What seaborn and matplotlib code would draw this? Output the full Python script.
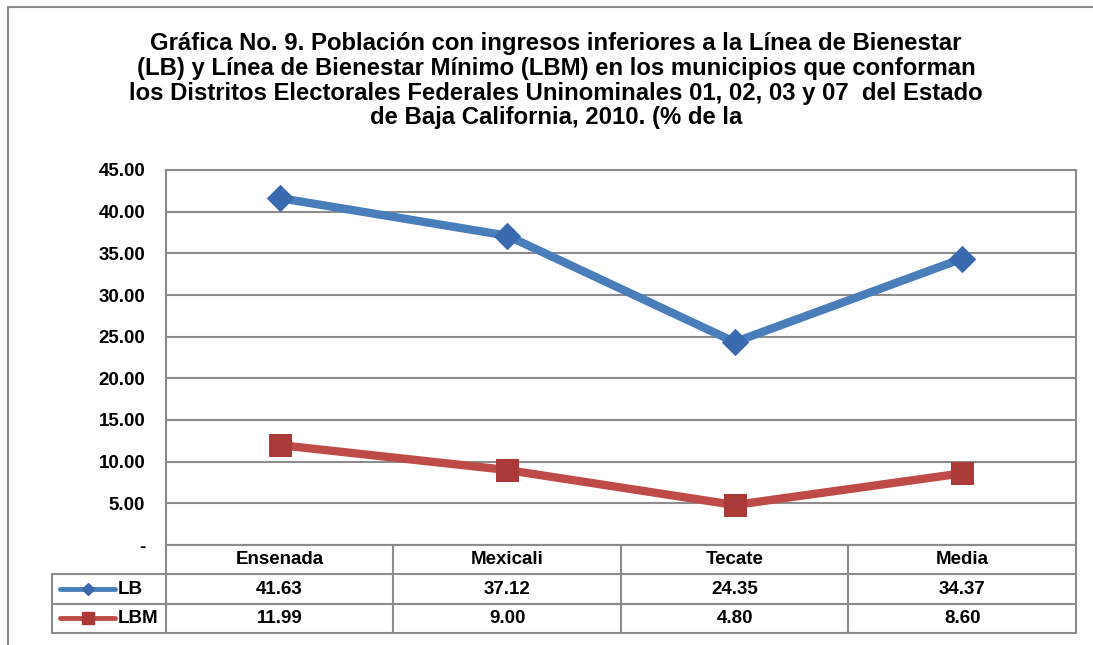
import numpy as np
import pandas as pd
import matplotlib.pyplot as plt
import seaborn as sns
from matplotlib.lines import Line2D

# Data
categories = ["Ensenada", "Mexicali", "Tecate", "Media"]
lb_values = [41.63, 37.12, 24.35, 34.37]
lbm_values = [11.99, 9.00, 4.80, 8.60]
series_names = ["LB", "LBM"]
y_ticks = [0, 5, 10, 15, 20, 25, 30, 35, 40, 45]
title_text = ("Gráfica No. 9. Población con ingresos inferiores a la Línea de Bienestar\n"
              "(LB) y Línea de Bienestar Mínimo (LBM) en los municipios que conforman\n"
              "los Distritos Electorales Federales Uninominales 01, 02, 03 y 07  del Estado\n"
              "de Baja California, 2010. (% de la")

sns.set_style("white")
plt.rcParams['font.family'] = ['Liberation Sans', 'DejaVu Sans']
plt.rcParams['text.color'] = 'black'
plt.rcParams['ytick.color'] = 'black'

colors = {"LB": "#4A7EBB", "LBM": "#BE4B48"}
edge_colors = {"LB": "#3A6AAE", "LBM": "#A93A37"}
markers = {"LB": "D", "LBM": "s"}
marker_sizes = {"LB": 13, "LBM": 16}
grid_color = "#8C8C8C"
fs = 13.5

pos = np.arange(len(categories))
df = pd.DataFrame({
    "x": np.concatenate([pos, pos]),
    "valor": lb_values + lbm_values,
    "serie": ["LB"] * len(lb_values) + ["LBM"] * len(lbm_values),
})

W, H = 1093, 645
fig = plt.figure(figsize=(W / 100, H / 100), dpi=100)
ax = fig.add_axes([166 / W, (H - 545) / H, 910 / W, 375 / H])

for s in series_names:
    sns.lineplot(data=df[df["serie"] == s], x="x", y="valor", ax=ax,
                 color=colors[s], linewidth=6, marker=markers[s],
                 markersize=marker_sizes[s], markerfacecolor=edge_colors[s],
                 markeredgecolor=edge_colors[s], legend=False, zorder=3)

ax.set_xlim(-0.5, len(categories) - 0.5)
ax.set_ylim(0, 45)
ax.set_yticks(y_ticks)
ax.set_yticklabels(["-" if v == 0 else f"{v:.2f}" for v in y_ticks],
                   fontweight="bold", fontsize=fs)
ax.set_xticks([])
ax.set_xlabel("")
ax.set_ylabel("")
ax.tick_params(axis="y", length=0, pad=15)
ax.yaxis.grid(True, color=grid_color, linewidth=1.5)
ax.set_axisbelow(True)
for sp in ax.spines.values():
    sp.set_color(grid_color)
    sp.set_linewidth(1.5)

# Data table under the plot
tax = fig.add_axes([52 / W, 12 / H, 1024 / W, 88 / H])
tax.set_xlim(-1.0, len(categories) - 0.5)
tax.set_ylim(3, 0)
tax.axis("off")
line_kw = dict(color=grid_color, linewidth=1.5, clip_on=False)
n = len(categories)
for y in [1, 2, 3]:
    tax.plot([-1.0, n - 0.5], [y, y], **line_kw)
tax.plot([-1.0, -1.0], [1, 3], **line_kw)
for xv in np.arange(-0.5, n, 1.0):
    tax.plot([xv, xv], [0, 3], **line_kw)

for i, c in enumerate(categories):
    tax.text(i, 0.5, c, ha="center", va="center", fontweight="bold", fontsize=fs)
for r, (s, vals) in enumerate(zip(series_names, [lb_values, lbm_values]), start=1):
    for i, v in enumerate(vals):
        tax.text(i, r + 0.5, f"{v:.2f}", ha="center", va="center",
                 fontweight="bold", fontsize=fs)
    tax.plot([-0.965, -0.725], [r + 0.5, r + 0.5], color=colors[s], linewidth=3.5,
             solid_capstyle="round", clip_on=False)
    tax.plot([-0.842], [r + 0.5], marker=markers[s], color=edge_colors[s],
             markersize=6 if s == "LB" else 8, clip_on=False)
    tax.text(-0.712, r + 0.5, s, ha="left", va="center",
             fontweight="bold", fontsize=fs)

# Outer chart border (top and left edges visible)
fig.add_artist(Line2D([8 / W, 1.0], [1 - 7 / H, 1 - 7 / H], transform=fig.transFigure,
                      color=grid_color, linewidth=1.5))
fig.add_artist(Line2D([8 / W, 8 / W], [0, 1 - 7 / H], transform=fig.transFigure,
                      color=grid_color, linewidth=1.5))

fig.text(556 / W, 1 - 32 / H, title_text, ha="center", va="top",
         fontsize=17.2, fontweight="bold", linespacing=1.1, multialignment="center")

fig.savefig("out.png", dpi=100)
